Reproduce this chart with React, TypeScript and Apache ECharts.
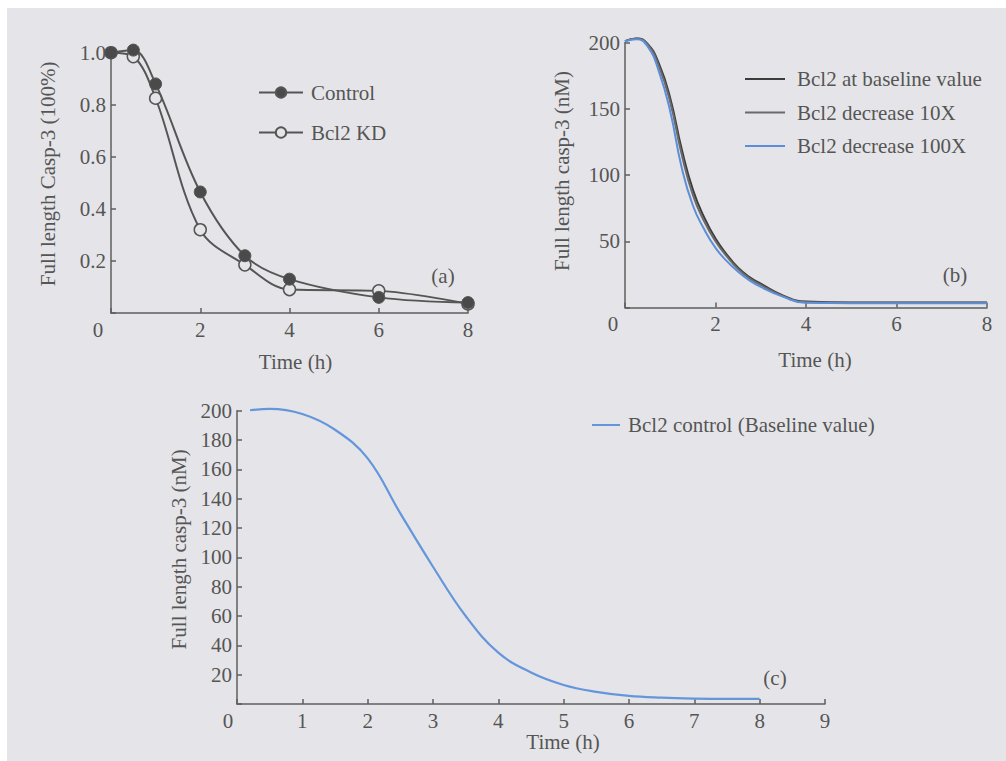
import React, { useEffect, useRef } from 'react';
import * as echarts from 'echarts';

// ---- Panel (a): measured data ----
const timeA = [0, 0.5, 1, 2, 3, 4, 6, 8];
const controlA = [1.0, 1.01, 0.88, 0.465, 0.22, 0.13, 0.06, 0.04];
const kdA = [1.0, 0.985, 0.825, 0.32, 0.185, 0.09, 0.085, 0.035];

// ---- Panel (b): simulations ----
const timeB = [0, 0.25, 0.5, 0.75, 1, 1.25, 1.5, 1.75, 2, 2.25, 2.5, 2.75, 3, 3.5, 4, 5, 6, 7, 8];
const baselineB = [201, 203, 199, 184, 158, 120, 89, 68, 52, 40, 30, 23, 18, 9, 4.5, 3.8, 3.8, 3.8, 3.8];
const dec10B = [201, 203, 198.5, 182, 155, 116, 85, 65, 50, 38.5, 29, 22, 17, 8.5, 4, 3.6, 3.6, 3.6, 3.6];
const dec100B = [201, 202.5, 197, 178, 148, 106, 77, 59, 45, 35, 27, 20.5, 15.5, 8, 3.5, 3.2, 3.2, 3.2, 3.2];

// ---- Panel (c): baseline simulation ----
const timeC = [0.2, 0.5, 1, 1.5, 2, 2.5, 3, 3.5, 4, 4.5, 5, 5.5, 6, 6.5, 7, 7.5, 8];
const controlC = [200.3, 201.2, 197.7, 187, 167.5, 130, 93.6, 60, 35, 21.5, 13, 8.3, 5.5, 4.3, 3.7, 3.5, 3.5];

const namesA = ['Control', 'Bcl2 KD'];
const namesB = ['Bcl2 at baseline value', 'Bcl2 decrease 10X', 'Bcl2 decrease 100X'];
const namesC = ['Bcl2 control (Baseline value)'];
const panelLabels = ['(a)', '(b)', '(c)'];

const BG = '#e5e5e9';
const INK = '#555555';
const AXIS = '#5e5e5e';
const FONT = 'Liberation Serif';
const FS = 21;

const pairs = (xs: number[], ys: number[]) => xs.map((x, i) => [x, ys[i]]);

function xAxisDef(gridIndex: number, max: number, interval: number, zeroPad: number, name: string, nameGap: number, namePadLeft: number) {
  return {
    type: 'value', gridIndex, min: 0, max, interval,
    name, nameLocation: 'middle', nameGap,
    nameTextStyle: { fontFamily: FONT, fontSize: FS, color: INK, padding: [0, 0, 0, namePadLeft] },
    axisLine: { show: true, onZero: false, lineStyle: { color: AXIS, width: 1.5 } },
    axisTick: { show: true, inside: true, length: 5, lineStyle: { color: AXIS, width: 1.5 } },
    splitLine: { show: false },
    axisLabel: {
      fontFamily: FONT, fontSize: FS, color: INK, margin: 6,
      formatter: (v: number) => (v === 0 ? '{z|0}' : String(v)),
      rich: { z: { fontFamily: FONT, fontSize: FS, color: INK, padding: [0, zeroPad, 0, 0] } },
    },
  };
}

function yAxisDef(gridIndex: number, max: number, interval: number, fmt: (v: number) => string, name: string, nameGap: number, namePadLeft: number) {
  return {
    type: 'value', gridIndex, min: 0, max, interval,
    name, nameLocation: 'middle', nameGap, nameRotate: 90,
    nameTextStyle: { fontFamily: FONT, fontSize: FS, color: INK, padding: [0, 0, 0, namePadLeft] },
    axisLine: { show: true, onZero: false, lineStyle: { color: AXIS, width: 1.5 } },
    axisTick: { show: true, inside: true, length: 5, lineStyle: { color: AXIS, width: 1.5 } },
    splitLine: { show: false },
    axisLabel: {
      fontFamily: FONT, fontSize: FS, color: INK, margin: 5,
      formatter: (v: number) => (v === 0 ? '' : fmt(v)),
    },
  };
}

export default function App() {
  const ref = useRef<HTMLDivElement>(null);
  useEffect(() => {
    if (!ref.current) return;
    const chart = echarts.init(ref.current, undefined, { renderer: 'svg' });
    const legendText = { fontFamily: FONT, fontSize: FS, color: INK, lineHeight: 21 };
    const option: any = {
      animation: false,
      backgroundColor: BG,
      grid: [
        { left: 111, top: 52.7, width: 357, height: 260.3 },
        { left: 625, top: 42.5, width: 362, height: 265 },
        { left: 237, top: 410.7, width: 588, height: 293.3 },
      ],
      xAxis: [
        xAxisDef(0, 8, 2, 26, 'Time (h)', 38, 12),
        xAxisDef(1, 8, 2, 24, 'Time (h)', 42, 18),
        xAxisDef(2, 9, 1, 18, 'Time (h)', 24, 64),
      ],
      yAxis: [
        yAxisDef(0, 1.0, 0.2, (v) => v.toFixed(1), 'Full length Casp-3 (100%)', 53, 18),
        yAxisDef(1, 200, 50, (v) => String(v), 'Full length casp-3 (nM)', 53, 8),
        yAxisDef(2, 200, 20, (v) => String(v), 'Full length casp-3 (nM)', 43, 16),
      ],
      legend: [
        {
          data: namesA, left: 258, top: 82, orient: 'vertical', itemGap: 19, padding: 0,
          itemWidth: 44, itemHeight: 13, selectedMode: false, textStyle: { ...legendText, padding: [0, 0, 0, 3] },
        },
        {
          data: namesB.map((n) => ({ name: n, icon: 'rect' })), left: 745, top: 68.5, orient: 'vertical', itemGap: 12.5, padding: 0,
          itemWidth: 40, itemHeight: 2, selectedMode: false, textStyle: { ...legendText, padding: [0, 0, 0, 7] },
        },
        {
          data: namesC.map((n) => ({ name: n, icon: 'rect' })), left: 592, top: 414.5, orient: 'vertical', padding: 0,
          itemWidth: 28, itemHeight: 2, selectedMode: false, textStyle: { ...legendText, padding: [0, 0, 0, 3] },
        },
      ],
      series: [
        {
          name: namesA[1], type: 'line', xAxisIndex: 0, yAxisIndex: 0, data: pairs(timeA, kdA),
          smooth: 0.35, symbol: 'circle', symbolSize: 12, clip: false,
          lineStyle: { color: INK, width: 2 },
          itemStyle: { color: BG, borderColor: INK, borderWidth: 1.5 },
          z: 2,
        },
        {
          name: namesA[0], type: 'line', xAxisIndex: 0, yAxisIndex: 0, data: pairs(timeA, controlA),
          smooth: 0.35, symbol: 'circle', symbolSize: 12, clip: false,
          lineStyle: { color: INK, width: 2 },
          itemStyle: { color: '#4a4a4a', borderColor: INK, borderWidth: 1 },
          z: 3,
        },
        {
          name: namesB[0], type: 'line', xAxisIndex: 1, yAxisIndex: 1, data: pairs(timeB, baselineB),
          smooth: 0.5, symbol: 'none', clip: false,
          lineStyle: { color: '#3c3c3c', width: 2 }, itemStyle: { color: '#3c3c3c' },
        },
        {
          name: namesB[1], type: 'line', xAxisIndex: 1, yAxisIndex: 1, data: pairs(timeB, dec10B),
          smooth: 0.5, symbol: 'none', clip: false,
          lineStyle: { color: '#6a6a6a', width: 2 }, itemStyle: { color: '#6a6a6a' },
        },
        {
          name: namesB[2], type: 'line', xAxisIndex: 1, yAxisIndex: 1, data: pairs(timeB, dec100B),
          smooth: 0.5, symbol: 'none', clip: false,
          lineStyle: { color: '#5d8fd8', width: 2 }, itemStyle: { color: '#5d8fd8' },
        },
        {
          name: namesC[0], type: 'line', xAxisIndex: 2, yAxisIndex: 2, data: pairs(timeC, controlC),
          smooth: 0.4, symbol: 'none', clip: false,
          lineStyle: { color: '#6496dc', width: 2.2 }, itemStyle: { color: '#6496dc' },
        },
      ],
      graphic: [
        { type: 'rect', left: 0, top: 0, shape: { width: 1006, height: 8 }, style: { fill: '#ffffff' }, silent: true },
        { type: 'rect', left: 0, top: 0, shape: { width: 7, height: 761 }, style: { fill: '#ffffff' }, silent: true },
        { type: 'text', x: 443, y: 276, style: { text: panelLabels[0], fontFamily: FONT, fontSize: FS, fill: INK, textAlign: 'center', textVerticalAlign: 'middle' } },
        { type: 'text', x: 955, y: 275, style: { text: panelLabels[1], fontFamily: FONT, fontSize: FS, fill: INK, textAlign: 'center', textVerticalAlign: 'middle' } },
        { type: 'text', x: 775, y: 678, style: { text: panelLabels[2], fontFamily: FONT, fontSize: FS, fill: INK, textAlign: 'center', textVerticalAlign: 'middle' } },
      ],
    };
    chart.setOption(option);
    return () => chart.dispose();
  }, []);
  return <div ref={ref} style={{ position: 'fixed', left: 0, top: 0, width: 1006, height: 761 }} />;
}
